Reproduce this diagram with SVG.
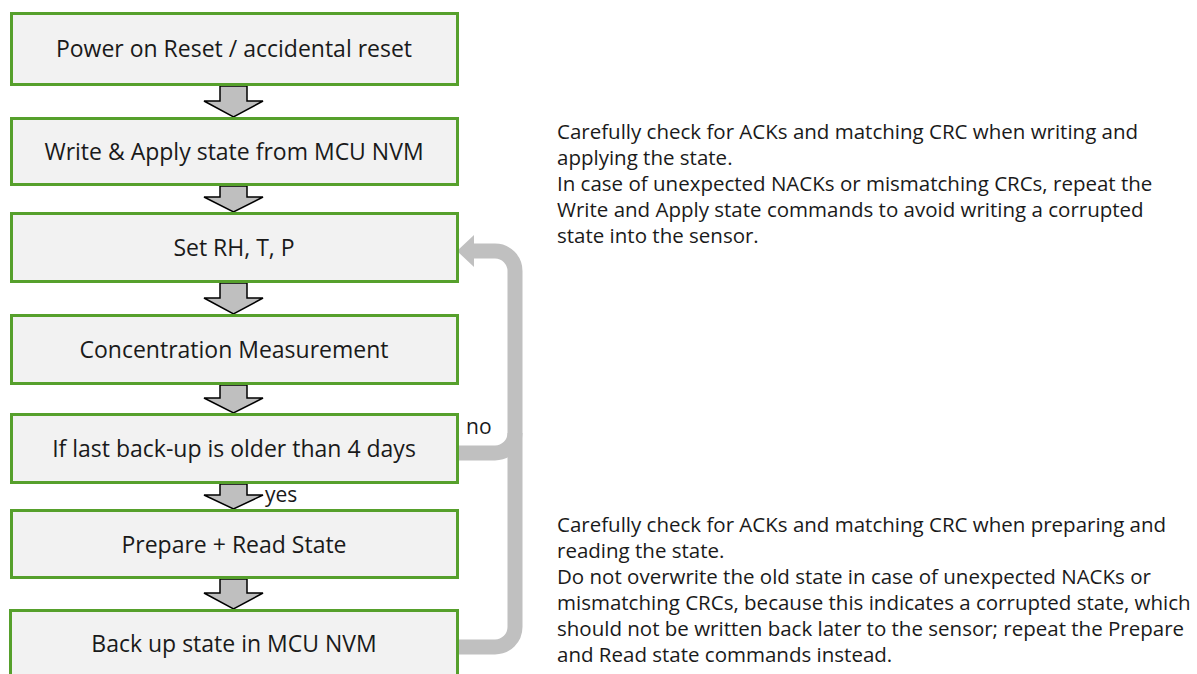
<svg xmlns="http://www.w3.org/2000/svg" width="1197" height="674" viewBox="0 0 1197 674">
<style>
.box{fill:#f2f2f2;stroke:#56a02c;stroke-width:3}
.bt{font-family:"Open Sans","Noto Sans",sans-serif;font-size:23px;fill:#1a1a1a;text-anchor:middle}
.lbl{font-family:"Open Sans","Noto Sans",sans-serif;font-size:21px;fill:#1a1a1a}
.note{font-family:"Open Sans","Noto Sans",sans-serif;font-size:20.5px;fill:#1a1a1a}
.darr{fill:#bfbfbf;stroke:#000;stroke-width:1.5;stroke-linejoin:miter}
.loop{fill:none;stroke:#c0c0c0;stroke-width:15}
</style>
<rect width="1197" height="674" fill="#fff"/>
<g id="connectors">
<polygon class="darr" points="220,86 247,86 247,101 263,101 233.5,117 204,101 220,101"/>
<polygon class="darr" points="220,186 247,186 247,197 263,197 233.5,212 204,197 220,197"/>
<polygon class="darr" points="220,283 247,283 247,298 263,298 233.5,314 204,298 220,298"/>
<polygon class="darr" points="220,385 247,385 247,398 263,398 233.5,413 204,398 220,398"/>
<polygon class="darr" points="220,484 247,484 247,495 263,495 233.5,509 204,495 220,495"/>
<polygon class="darr" points="220,579 247,579 247,593 263,593 233.5,609 204,593 220,593"/>
<path class="loop" d="M458 647 H495 A20 20 0 0 0 515 627 V271 A20 20 0 0 0 495 251 H472"/>
<path class="loop" d="M458 453 H495 A20 20 0 0 0 515 433"/>
<polygon fill="#c0c0c0" points="457,251 474,235 474,267"/>
<text class="lbl" x="466" y="434">no</text>
<text class="lbl" x="265" y="502">yes</text>
</g>
<g id="n1"><rect class="box" x="11.5" y="13.5" width="446" height="71"/><text class="bt" x="234" y="57">Power on Reset / accidental reset</text></g>
<g id="n2"><rect class="box" x="11.5" y="118.5" width="446" height="66"/><text class="bt" x="234" y="160">Write &amp; Apply state from MCU NVM</text></g>
<g id="n3"><rect class="box" x="11.5" y="213.5" width="446" height="68"/><text class="bt" x="234" y="256">Set RH, T, P</text></g>
<g id="n4"><rect class="box" x="11.5" y="315.5" width="446" height="68"/><text class="bt" x="234" y="358">Concentration Measurement</text></g>
<g id="n5"><rect class="box" x="11.5" y="414.5" width="446" height="68"/><text class="bt" x="234" y="457">If last back-up is older than 4 days</text></g>
<g id="n6"><rect class="box" x="11.5" y="510.5" width="446" height="67"/><text class="bt" x="234" y="553">Prepare + Read State</text></g>
<g id="n7"><rect class="box" x="10.5" y="610.5" width="447" height="80"/><text class="bt" x="234" y="652">Back up state in MCU NVM</text></g>
<g id="note1">
<text class="note" x="557" y="139">Carefully check for ACKs and matching CRC when writing and</text>
<text class="note" x="557" y="165">applying the state.</text>
<text class="note" x="557" y="191">In case of unexpected NACKs or mismatching CRCs, repeat the</text>
<text class="note" x="557" y="217">Write and Apply state commands to avoid writing a corrupted</text>
<text class="note" x="557" y="243">state into the sensor.</text>
</g>
<g id="note2">
<text class="note" x="557" y="532">Carefully check for ACKs and matching CRC when preparing and</text>
<text class="note" x="557" y="558">reading the state.</text>
<text class="note" x="557" y="584">Do not overwrite the old state in case of unexpected NACKs or</text>
<text class="note" x="557" y="610">mismatching CRCs, because this indicates a corrupted state, which</text>
<text class="note" x="557" y="636">should not be written back later to the sensor; repeat the Prepare</text>
<text class="note" x="557" y="662">and Read state commands instead.</text>
</g>
</svg>
